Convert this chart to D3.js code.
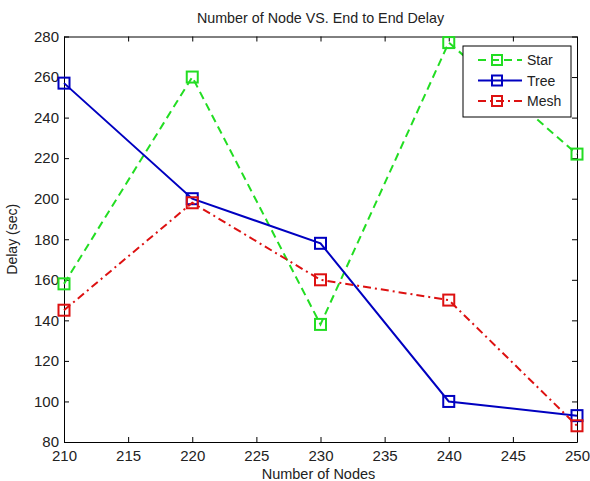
<!DOCTYPE html>
<html>
<head>
<meta charset="utf-8">
<script src="https://cdn.jsdelivr.net/npm/d3@7"></script>
<style>
body { margin: 0; background: #fff; }
text { font-family: "Liberation Sans", Arial, sans-serif; }
</style>
</head>
<body>
<svg id="chart" width="590" height="481"></svg>
<script>
// data
const nodes = [210, 220, 230, 240, 250];
const starDelay = [158, 260, 138, 277, 222];
const treeDelay = [257, 200, 178, 100, 93];
const meshDelay = [145, 198, 160, 150, 88];
const xTicks = [210, 215, 220, 225, 230, 235, 240, 245, 250];
const yTicks = [80, 100, 120, 140, 160, 180, 200, 220, 240, 260, 280];

const series = [
  {name: "Star", values: starDelay, color: "#22dd22", dash: "8,5"},
  {name: "Tree", values: treeDelay, color: "#0000c0", dash: null},
  {name: "Mesh", values: meshDelay, color: "#dd1111", dash: "8,4,2,4"}
];

var margin = {top: 36.5, right: 13, bottom: 39, left: 64};
var width = 590 - margin.left - margin.right;
var height = 481 - margin.top - margin.bottom;

var svg = d3.select("#chart");
var g = svg.append("g")
    .attr("transform", "translate(" + margin.left + "," + margin.top + ")");

var x = d3.scaleLinear().domain([210, 250]).range([0, width]);
var y = d3.scaleLinear().domain([80, 280]).range([height, 0]);

// axes, ticks pointing inward like matlab
var fontSize = 15;
g.append("g")
    .attr("transform", "translate(0," + height + ")")
    .call(d3.axisBottom(x).tickValues(xTicks).tickSizeInner(-5).tickSizeOuter(0).tickPadding(8));
g.append("g")
    .call(d3.axisTop(x).tickValues(xTicks).tickSizeInner(-5).tickSizeOuter(0).tickFormat(""));
g.append("g")
    .call(d3.axisLeft(y).tickValues(yTicks).tickSizeInner(-5).tickSizeOuter(0).tickPadding(5));
g.append("g")
    .attr("transform", "translate(" + width + ",0)")
    .call(d3.axisRight(y).tickValues(yTicks).tickSizeInner(-5).tickSizeOuter(0).tickFormat(""));

g.selectAll(".domain").attr("stroke", "#000").attr("stroke-width", 1);
g.selectAll(".tick line").attr("stroke", "#000");
g.selectAll(".tick text").attr("font-size", fontSize).attr("fill", "#222")
    .attr("font-family", "Liberation Sans, Arial, sans-serif");

// lines
var line = d3.line()
    .x(function(d, i) { return x(nodes[i]); })
    .y(function(d) { return y(d); });

series.forEach(function(s) {
  g.append("path")
    .datum(s.values)
    .attr("fill", "none")
    .attr("stroke", s.color)
    .attr("stroke-width", 2)
    .attr("stroke-dasharray", s.dash)
    .attr("d", line);

  g.selectAll(".m-" + s.name)
    .data(s.values)
    .enter().append("rect")
    .attr("x", function(d, i) { return x(nodes[i]) - 5.5; })
    .attr("y", function(d) { return y(d) - 5.5; })
    .attr("width", 11)
    .attr("height", 11)
    .attr("fill", "none")
    .attr("stroke", s.color)
    .attr("stroke-width", 2);
});

// title and labels
svg.append("text")
    .attr("x", margin.left + width / 2)
    .attr("y", 23)
    .attr("text-anchor", "middle")
    .attr("font-size", 14.3)
    .attr("fill", "#222")
    .text("Number of Node VS. End to End Delay");

svg.append("text")
    .attr("x", margin.left + width / 2 - 2)
    .attr("y", 479)
    .attr("text-anchor", "middle")
    .attr("font-size", 14.5)
    .attr("fill", "#222")
    .text("Number of Nodes");

svg.append("text")
    .attr("transform", "translate(17," + (margin.top + height / 2) + ") rotate(-90)")
    .attr("text-anchor", "middle")
    .attr("font-size", 14)
    .attr("fill", "#222")
    .text("Delay (sec)");

// legend
var lg = svg.append("g").attr("transform", "translate(463,46)");
lg.append("rect")
    .attr("width", 108).attr("height", 71)
    .attr("fill", "#fff").attr("stroke", "#000").attr("stroke-width", 1);

series.forEach(function(s, i) {
  var ly = 14 + i * 20.5;
  lg.append("line")
    .attr("x1", 15).attr("x2", 59).attr("y1", ly).attr("y2", ly)
    .attr("stroke", s.color).attr("stroke-width", 2)
    .attr("stroke-dasharray", s.dash);
  lg.append("rect")
    .attr("x", 29).attr("y", ly - 5).attr("width", 10).attr("height", 10)
    .attr("fill", "none").attr("stroke", s.color).attr("stroke-width", 2);
  lg.append("text")
    .attr("x", 64).attr("y", ly + 5)
    .attr("font-size", 14)
    .attr("fill", "#222")
    .text(s.name);
});
</script>
</body>
</html>
